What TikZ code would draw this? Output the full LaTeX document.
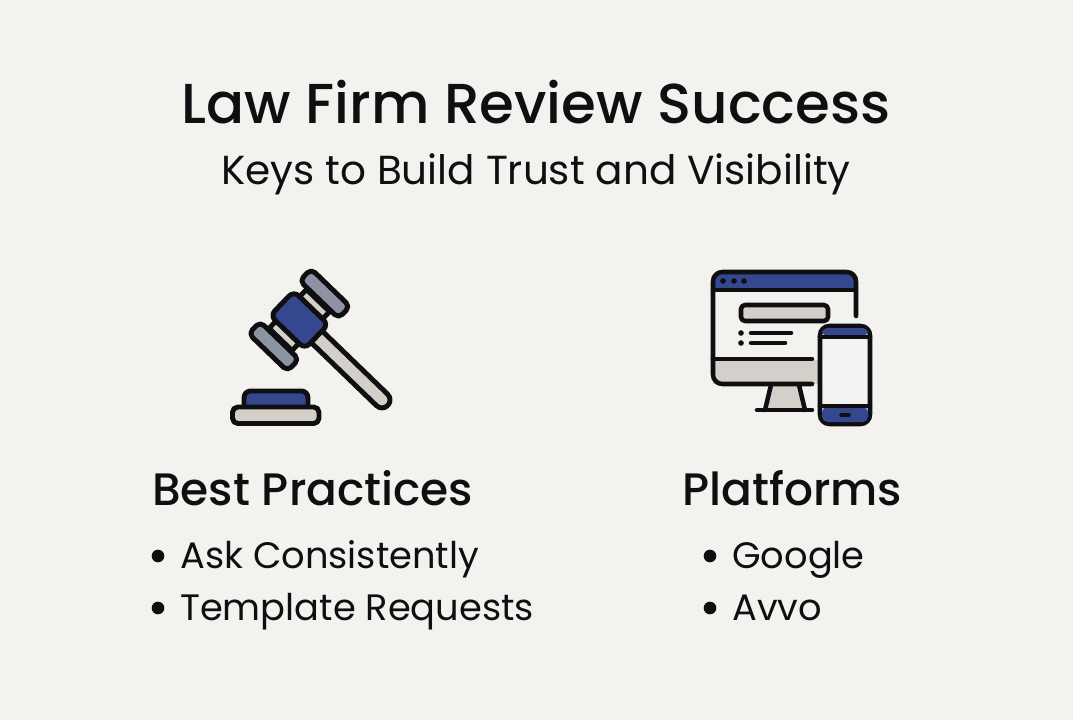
\documentclass[tikz,border=0pt]{standalone}
\usepackage{fontspec}
\setmainfont{Poppins}
\newfontfamily\medfont{Poppins Medium}
\usetikzlibrary{calc}
\definecolor{paper}{HTML}{F3F2EF}
\definecolor{ink}{HTML}{0F0F12}
\definecolor{navy}{HTML}{34478F}
\definecolor{slate}{HTML}{8D93A3}
\definecolor{sand}{HTML}{D4CFC8}
\definecolor{glass}{HTML}{F3F3F1}
\tikzset{
    icon/.style={draw=ink,line width=3.7pt,line join=round,line cap=round},
    thinicon/.style={draw=ink,line width=3.4pt,line join=round,line cap=round},
    titletext/.style={inner sep=0pt,anchor=base,text=ink,font=\medfont\fontsize{42.2}{48}\selectfont},
    subtext/.style={inner sep=0pt,anchor=base,text=ink,font=\fontsize{30.4}{36}\selectfont},
    headtext/.style={inner sep=0pt,anchor=base west,text=ink,font=\medfont\fontsize{34.1}{40}\selectfont},
    itemtext/.style={inner sep=0pt,anchor=base west,text=ink,font=\fontsize{27.6}{32}\selectfont},
    itemdot/.style={circle,fill=ink,inner sep=0pt,minimum size=9.5pt}
}
\begin{document}
\begin{tikzpicture}[x=0.75pt,y=-0.75pt]
    \fill[paper] (0,0) rectangle (1073,720);
    \useasboundingbox (0,0) rectangle (1073,720);

    % Title
    \node[titletext] (title) at (536,123.5) {Law Firm Review Success};
    \node[subtext] (subtitle) at (536,185) {Keys to Build Trust and Visibility};

    % Gavel
    \begin{scope}[shift={(299.3,320)},rotate=-44]
        \draw[icon,fill=sand,rounded corners=6] (15,-8) rectangle (123,8);
        \draw[icon,fill=sand] (-16,-27) rectangle (16,27);
        \draw[icon,fill=navy,rounded corners=5] (-24,-17) rectangle (24,17);
        \draw[icon,fill=slate,rounded corners=4] (-27,-45) rectangle (27,-28.5);
        \draw[icon,fill=slate,rounded corners=4] (-27,28.5) rectangle (27,45);
    \end{scope}
    \draw[icon,fill=navy,rounded corners=5] (244,407) -- (244,391) -- (308,391) -- (308,407);
    \draw[icon,fill=sand,rounded corners=4] (232.5,423.5) -- (232.5,407) -- (319,407) -- (319,423.5) -- cycle;

    % Monitor
    \fill[sand] (713,360) rectangle (822,384);
    \fill[navy,rounded corners=6] (713,290) -- (713,272) -- (856,272) -- (856,290) -- cycle;
    \fill[sand] (771,385) -- (799,385) -- (805,410) -- (765,410) -- cycle;
    \draw[thinicon,rounded corners=7] (856,316) -- (856,272) -- (713,272) -- (713,384) -- (812,384);
    \draw[thinicon] (713,290) -- (856,290);
    \draw[thinicon] (713,359) -- (812,359);
    \foreach \x in {723,734,744} {
        \fill[ink] (\x,281) circle (2.8);
    }
    \draw[thinicon,fill=sand,rounded corners=3] (741,305) rectangle (828,321);
    \foreach \y/\xend in {333/791,343/785} {
        \fill[ink] (741,\y) circle (2.8);
        \draw[thinicon] (751,\y) -- (\xend,\y);
    }
    \draw[thinicon] (771,385) -- (765,410);
    \draw[thinicon] (799,385) -- (805,410);
    \draw[thinicon] (757,410) -- (812,410);

    % Phone
    \draw[thinicon,fill=glass,rounded corners=7] (820,326) rectangle (870,424);
    \fill[navy,rounded corners=4] (822,328) rectangle (868,336);
    \fill[navy,rounded corners=4] (822,407) rectangle (868,422);
    \draw[thinicon] (820,337) -- (870,337);
    \draw[thinicon] (820,406) -- (870,406);
    \draw[thinicon] (841.5,415) -- (848.5,415);

    % Left column
    \node[headtext] (practices) at (152,505) {Best Practices};
    \node[itemdot] (dot1) at (158,556) {};
    \node[itemtext] (ask) at (180,568) {Ask Consistently};
    \node[itemdot] (dot2) at (158,608) {};
    \node[itemtext] (template) at (180,620) {Template Requests};

    % Right column
    \node[headtext] (platforms) at (682,505) {Platforms};
    \node[itemdot] (dot3) at (710,556) {};
    \node[itemtext] (google) at (732,568) {Google};
    \node[itemdot] (dot4) at (710,608) {};
    \node[itemtext] (avvo) at (732,620) {Avvo};
\end{tikzpicture}
\end{document}
